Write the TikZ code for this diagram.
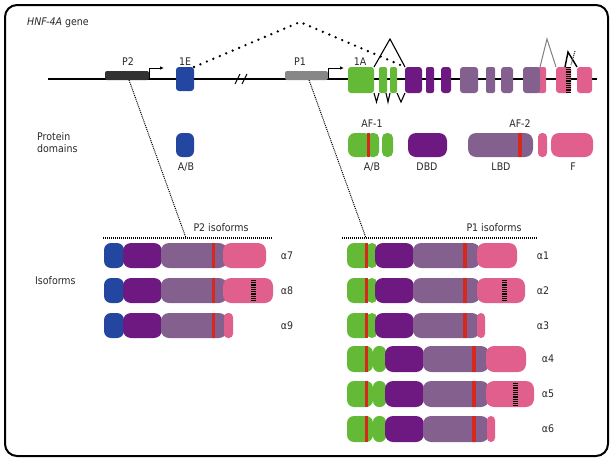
\documentclass[tikz,border=0pt]{standalone}
\usepackage{fontspec}
\setmainfont{DejaVu Sans Condensed}
\usetikzlibrary{arrows.meta}
\definecolor{cblue}{RGB}{35,70,160}
\definecolor{cgreen}{RGB}{100,185,55}
\definecolor{cdp}{RGB}{110,25,130}
\definecolor{clp}{RGB}{132,96,142}
\definecolor{cpink}{RGB}{225,95,140}
\definecolor{cred}{RGB}{215,40,30}
\definecolor{cpdark}{RGB}{50,50,50}
\definecolor{cpgray}{RGB}{135,135,135}
\definecolor{ctext}{RGB}{40,40,40}
\newcommand\mysg[6]{\fill[#1,rounded corners=#6pt] (#2,#4) rectangle (#3,#5);}
\newcommand\myred[3]{\fill[cred] (#1-1.6,#2) rectangle (#1+1.6,#3);}
\newcommand\myhatch[3]{\draw[black,line width=5pt,dash pattern=on 0.9pt off 0.9pt] (#1,#2)--(#1,#3);}
\begin{document}
\begin{tikzpicture}[x=1pt,y=-1pt,
  lbl/.style={font=\fontsize{10.5}{12}\selectfont,inner sep=0pt,text=ctext},
  dotconn/.style={line width=1pt,dash pattern=on 1pt off 1pt},
  splice/.style={line width=1.1pt,black}]
\useasboundingbox (0,0) rectangle (614,461);
\draw[line width=2pt,rounded corners=12pt] (5,5) rectangle (608,456);

% title
\node[lbl,anchor=west] (title) at (27,23) {\textit{HNF-4A} gene};

% gene line
\draw[line width=1.1pt] (48,79) -- (597,79);
\draw[line width=1.1pt] (235,84) -- (240,74);
\draw[line width=1.1pt] (242,84) -- (247,74);

% promoters
\fill[cpdark,rounded corners=2pt] (105,80) -- (105,71) -- (149,71) -- (149,80) -- cycle;
\coordinate (p2) at (129,80);
\draw[line width=1pt,-{Latex[length=4pt,width=3.5pt]}] (149,80) -- (149,68) -- (164,68);
\fill[cpgray,rounded corners=2pt] (285,80) -- (285,71) -- (328,71) -- (328,80) -- cycle;
\coordinate (p1) at (309,80);
\draw[line width=1pt,-{Latex[length=4pt,width=3.5pt]}] (328,80) -- (328,68) -- (344,68);

\node[lbl] (lP2) at (128,62) {P2};
\node[lbl] (l1E) at (185,62) {1E};
\node[lbl] (lP1) at (300,62) {P1};
\node[lbl] (l1A) at (360,62) {1A};

% exons
\mysg{cblue}{176}{194}{67}{91}{3}
\mysg{cgreen}{348}{374}{67}{93}{3}
\mysg{cgreen}{379}{387}{67}{93}{2}
\mysg{cgreen}{390}{397}{67}{93}{2}
\mysg{cdp}{405}{422}{67}{93}{3}
\mysg{cdp}{426}{434}{67}{93}{2}
\mysg{cdp}{441}{451}{67}{93}{3}
\mysg{clp}{460}{478}{67}{93}{3}
\mysg{clp}{486}{495}{67}{93}{2}
\mysg{clp}{501}{513}{67}{93}{3}
\mysg{cpink}{536}{546}{67}{93}{2}
\mysg{clp}{523}{540}{67}{93}{3}
\mysg{cpink}{556}{571}{67}{93}{3}
\myhatch{568.5}{67}{93}
\mysg{cpink}{577}{592}{67}{93}{3}

% splicing
\draw[line width=2.6pt,dash pattern=on 0pt off 7pt,line cap=round] (194,67) -- (300,22) -- (405,67);
\draw[splice] (374,67) -- (390,39) -- (405,67);
\draw[splice] (374,93) -- (376.5,102) -- (379,93);
\draw[splice] (386,93) -- (388,102) -- (390,93);
\draw[splice] (397,93) -- (401,102) -- (405,93);
\draw[line width=1pt,gray] (540,67) -- (547,39) -- (556,67);
\draw[line width=1.4pt] (565,67) -- (568,52) -- (577,67);
\draw[line width=1.2pt,dash pattern=on 1pt off 1pt,darkgray] (575,51) -- (571,65);

% protein domains
\node[lbl,anchor=west,align=left] (pd) at (37,142.5) {Protein\\[0pt]domains};
\mysg{cblue}{176}{194}{133}{157}{6}
\mysg{cgreen}{348}{371}{133}{157}{7}
\mysg{cgreen}{367}{379}{133}{157}{5}
\myred{368.5}{133}{157}
\mysg{cgreen}{382}{393}{133}{157}{5}
\mysg{cdp}{408}{447}{133}{157}{8}
\mysg{clp}{468}{533}{133}{157}{8}
\myred{520}{133}{157}
\mysg{cpink}{538}{547}{133}{157}{4}
\mysg{cpink}{551}{593}{133}{157}{8}
\node[lbl] (af1) at (372,124) {AF-1};
\node[lbl] (af2) at (520,124) {AF-2};
\node[lbl] (ab1) at (186,167) {A/B};
\node[lbl] (ab2) at (372,167) {A/B};
\node[lbl] (dbd) at (427,167) {DBD};
\node[lbl] (lbd) at (501,167) {LBD};
\node[lbl] (ff) at (573,167) {F};

% connectors
\coordinate (h2a) at (103,238);
\coordinate (h2b) at (272,238);
\coordinate (h2m) at (186,238);
\coordinate (h1a) at (342,238);
\coordinate (h1b) at (537,238);
\coordinate (h1m) at (366,238);
\draw[dotconn] (p2) -- (h2m);
\draw[dotconn] (p1) -- (h1m);
\draw[line width=1.2pt,dash pattern=on 1pt off 1pt] (h2a) -- (h2b);
\draw[line width=1.2pt,dash pattern=on 1pt off 1pt] (h1a) -- (h1b);
\node[lbl] (p2iso) at (221,228) {P2 isoforms};
\node[lbl] (p1iso) at (494,228) {P1 isoforms};
\node[lbl,anchor=west] (iso) at (35,281) {Isoforms};

% P2 isoforms
\foreach \ya/\yb/\kind/\nm in {243/268/1/α7, 278/303/2/α8, 313/338/3/α9}{
  \mysg{cblue}{104}{124}{\ya}{\yb}{7}
  \mysg{cdp}{123}{162}{\ya}{\yb}{8}
  \mysg{clp}{161}{227}{\ya}{\yb}{8}
  \myred{213.5}{\ya}{\yb}
  \ifnum\kind=1 \mysg{cpink}{223}{266}{\ya}{\yb}{8}\fi
  \ifnum\kind=2 \mysg{cpink}{223}{273}{\ya}{\yb}{8}\myhatch{253}{\ya+2}{\yb-2}\fi
  \ifnum\kind=3 \mysg{cpink}{224}{233}{\ya}{\yb}{4}\fi
  \node[lbl] at (287,{(\ya+\yb)/2}) {\nm};
}
% P1 isoforms a1-a3
\foreach \ya/\yb/\kind/\nm in {243/268/1/α1, 278/303/2/α2, 313/338/3/α3}{
  \mysg{cgreen}{347}{371}{\ya}{\yb}{7}
  \mysg{cgreen}{367}{377}{\ya}{\yb}{5}
  \myred{366.5}{\ya}{\yb}
  \mysg{cdp}{375}{414}{\ya}{\yb}{8}
  \mysg{clp}{413}{480}{\ya}{\yb}{8}
  \myred{465}{\ya}{\yb}
  \ifnum\kind=1 \mysg{cpink}{477}{517}{\ya}{\yb}{8}\fi
  \ifnum\kind=2 \mysg{cpink}{477}{525}{\ya}{\yb}{8}\myhatch{504.5}{\ya+2}{\yb-2}\fi
  \ifnum\kind=3 \mysg{cpink}{477}{485}{\ya}{\yb}{4}\fi
  \node[lbl] at (543,{(\ya+\yb)/2}) {\nm};
}
% P1 isoforms a4-a6
\foreach \ya/\yb/\kind/\nm in {346/372/1/α4, 381/407/2/α5, 416/442/3/α6}{
  \mysg{cgreen}{347}{373}{\ya}{\yb}{7}
  \mysg{cgreen}{373}{386}{\ya}{\yb}{6}
  \myred{366.5}{\ya}{\yb}
  \mysg{cdp}{385}{424}{\ya}{\yb}{8}
  \mysg{clp}{423}{489}{\ya}{\yb}{8}
  \myred{474}{\ya}{\yb}
  \ifnum\kind=1 \mysg{cpink}{486}{526}{\ya}{\yb}{8}\fi
  \ifnum\kind=2 \mysg{cpink}{486}{534}{\ya}{\yb}{8}\myhatch{515}{\ya+2}{\yb-2}\fi
  \ifnum\kind=3 \mysg{cpink}{487}{495}{\ya}{\yb}{4}\fi
  \node[lbl] at (548,{(\ya+\yb)/2}) {\nm};
}
\end{tikzpicture}
\end{document}
